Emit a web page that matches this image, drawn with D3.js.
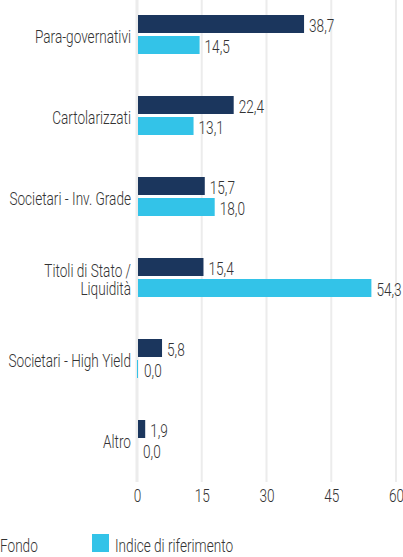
<!DOCTYPE html>
<html><head><meta charset="utf-8">
<script src="https://cdn.jsdelivr.net/npm/d3@7"></script>
<style>
html,body{margin:0;padding:0;background:#fff;overflow:hidden;}
svg{display:block;}
text{font-family:"Roboto","Liberation Sans Narrow",sans-serif;font-weight:300;fill:#333;}
</style></head>
<body>
<svg id="chart" width="403" height="557"></svg>
<script>
const categories = ["Para-governativi","Cartolarizzati","Societari - Inv. Grade","Titoli di Stato / Liquidità","Societari - High Yield","Altro"];
const categoryLines = [["Para-governativi"],["Cartolarizzati"],["Societari - Inv. Grade"],["Titoli di Stato /","Liquidità"],["Societari - High Yield"],["Altro"]];
const seriesNames = ["Fondo","Indice di riferimento"];
const fondo = [38.7,22.4,15.7,15.4,5.8,1.9];
const indice = [14.5,13.1,18.0,54.3,0.03,0.0];
const xTicks = [0,15,30,45,60];
const colors = ["#1b365d","#33c3e8"];

const svg = d3.select("#chart");
const FS = 19;

const x = d3.scaleLinear().domain([0,60]).range([137,396]);
const y = d3.scaleBand().domain(categories).range([-6,480]).paddingInner(42/81).paddingOuter(21/81);
const ys = d3.scaleBand().domain(seriesNames).range([0,y.bandwidth()]).paddingInner(3/21);

// gridlines
const grid = svg.append("g");
xTicks.forEach(t=>{
  grid.append("line").attr("x1",x(t)).attr("x2",x(t)).attr("y1",0).attr("y2",482)
    .attr("stroke","#ececec").attr("stroke-width", t===0?3:2);
});

// axis labels
const axis = svg.append("g").attr("transform","translate(0,502)")
  .call(d3.axisBottom(x).tickValues(xTicks).tickSize(0).tickPadding(0).tickFormat(d=>d));
axis.select(".domain").remove();
axis.attr("font-family",null).attr("font-size",null);
axis.selectAll("text").attr("font-size",FS).attr("dy",0).attr("y",0).attr("fill","#333");

const data = categories.map((c,i)=>({cat:c,lines:categoryLines[i],vals:[fondo[i],indice[i]]}));

const groups = svg.append("g").selectAll("g").data(data).join("g")
  .attr("transform",d=>`translate(0,${y(d.cat)})`);

groups.each(function(d){
  const g = d3.select(this);
  d.vals.forEach((v,si)=>{
    const yy = ys(seriesNames[si]);
    const w = v > 0 ? Math.max(1, x(v)-x(0)-1) : 0;
    if (w > 0) {
      g.append("rect").attr("x",x(0)+(v<1?0:1)).attr("y",yy).attr("width",w).attr("height",ys.bandwidth())
        .attr("fill",colors[si]);
    }
    g.append("text").attr("x",x(0)+1+w+5).attr("y",yy+ys.bandwidth()/2+8)
      .attr("font-size",FS).text(d3.format(".1f")(v).replace(".",","));
  });
  const c = y.bandwidth()/2;
  const n = d.lines.length;
  d.lines.forEach((ln,li)=>{
    g.append("text").attr("x",131).attr("text-anchor","end")
      .attr("y", c + 8.5 + (li-(n-1)/2)*18).attr("font-size",FS).text(ln);
  });
});

// legend
const leg = svg.append("g");
const legX = [-23, 92];
seriesNames.forEach((s,i)=>{
  leg.append("rect").attr("x",legX[i]).attr("y",534).attr("width",17).attr("height",18).attr("fill",colors[i]);
  leg.append("text").attr("x",legX[i]+23).attr("y",552).attr("font-size",FS).text(s);
});

// condense text to match the reference's compressed typeface
const probe = svg.append("text").attr("font-size",FS).text("Para-governativi");
const factor = 96/probe.node().getComputedTextLength();
probe.remove();
svg.selectAll("text").each(function(){
  const w = this.getComputedTextLength();
  if (w>0 && factor<1){
    this.setAttribute("textLength", w*factor);
    this.setAttribute("lengthAdjust","spacingAndGlyphs");
  }
});
</script>
</body></html>
